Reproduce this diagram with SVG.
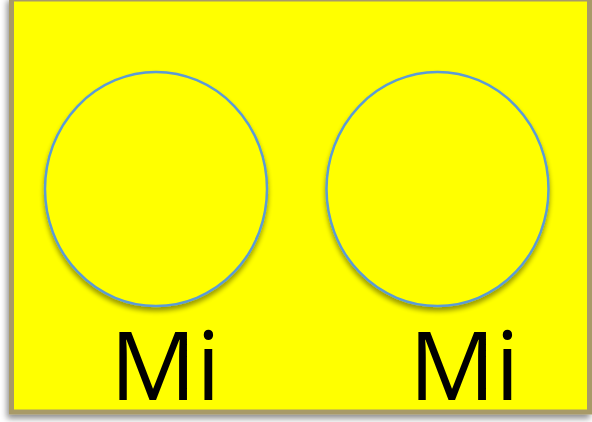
<svg xmlns="http://www.w3.org/2000/svg" width="592" height="422" viewBox="0 0 592 422">
<defs>
<filter id="sh" x="-10%" y="-10%" width="120%" height="120%">
<feGaussianBlur in="SourceAlpha" stdDeviation="3"/>
<feOffset dx="-2" dy="4" result="b"/>
<feComponentTransfer><feFuncA type="linear" slope="0.45"/></feComponentTransfer>
<feMerge><feMergeNode/><feMergeNode in="SourceGraphic"/></feMerge>
</filter>
<filter id="csh" x="-10%" y="-10%" width="120%" height="125%">
<feGaussianBlur in="SourceAlpha" stdDeviation="2.5"/>
<feOffset dx="0" dy="4" result="b"/>
<feComponentTransfer><feFuncA type="linear" slope="0.4"/></feComponentTransfer>
<feMerge><feMergeNode/><feMergeNode in="SourceGraphic"/></feMerge>
</filter>
</defs>
<style>
.c{fill:#FFFF00;stroke:#5B9BD5;stroke-width:2.5}
.t{font-family:"Open Sans","Liberation Sans",sans-serif;font-size:96px;fill:#000}
</style>
<rect width="592" height="422" fill="#ffffff"/>
<g id="frame">
<rect x="11.5" y="-1" width="578" height="413" fill="#FFFF00" stroke="#A89A68" stroke-width="5" filter="url(#sh)"/>
</g>
<g id="node-left">
<ellipse class="c" cx="156" cy="189" rx="111" ry="117" filter="url(#csh)"/>
<text class="t" x="110" y="400">Mi</text>
</g>
<g id="node-right">
<ellipse class="c" cx="437.5" cy="189" rx="111" ry="117" filter="url(#csh)"/>
<text class="t" x="409" y="400">Mi</text>
</g>
<g id="connectors"/>
</svg>
